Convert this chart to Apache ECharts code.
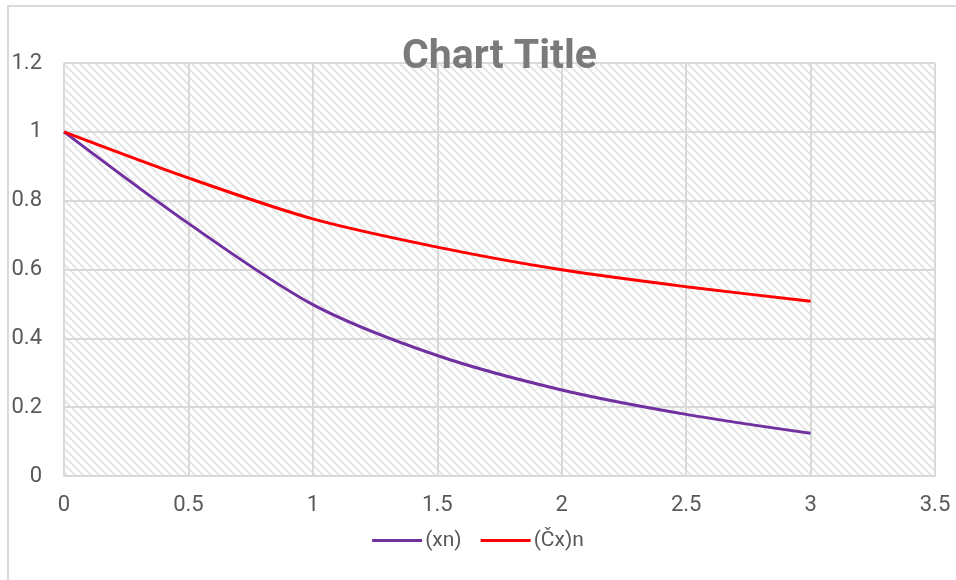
<!DOCTYPE html>
<html>
<head>
<meta charset="utf-8">
<script src="https://cdn.jsdelivr.net/npm/echarts@6/dist/echarts.min.js"></script>
<style>
html,body{margin:0;padding:0;background:#fff;}
#chart{width:956px;height:580px;}
</style>
</head>
<body>
<div id="chart"></div>
<script>
const xValues = [0, 0.5, 1, 1.5, 2, 2.5, 3];
const seriesXn = [1, 0.734, 0.498, 0.350, 0.250, 0.179, 0.124];
const seriesCxn = [1, 0.866, 0.747, 0.665, 0.599, 0.550, 0.508];
const seriesNames = ['(xn)', '(Čx)n'];
const titleText = 'Chart Title';

function makePattern() {
  const c = document.createElement('canvas');
  c.width = 8; c.height = 8;
  const ctx = c.getContext('2d');
  ctx.fillStyle = '#ffffff';
  ctx.fillRect(0, 0, 8, 8);
  ctx.strokeStyle = '#e5e5e5';
  ctx.lineWidth = 2.1;
  for (const k of [-8, 0, 8]) {
    ctx.beginPath();
    ctx.moveTo(k, 0);
    ctx.lineTo(k + 8, 8);
    ctx.stroke();
  }
  return c;
}

const chart = echarts.init(document.getElementById('chart'), null, {renderer: 'canvas'});
const font = 'Roboto';
chart.setOption({
  animation: false,
  backgroundColor: '#ffffff',
  textStyle: {fontFamily: font},
  title: {
    text: titleText,
    left: 397,
    top: 32,
    textStyle: {fontFamily: font, fontSize: 41, fontWeight: 'bold', color: '#7a7a7a'}
  },
  graphic: [{
    type: 'rect',
    shape: {x: 8, y: 6, width: 1200, height: 1200},
    style: {fill: 'none', stroke: '#d9d9d9', lineWidth: 2},
    silent: true
  }],
  grid: {
    left: 64, right: 21, top: 63, bottom: 104,
    show: true,
    backgroundColor: {image: makePattern(), repeat: 'repeat'},
    borderWidth: 0
  },
  legend: {
    bottom: 24,
    left: 'center',
    icon: 'rect',
    itemWidth: 50,
    itemHeight: 3,
    itemGap: 19,
    textStyle: {fontFamily: font, fontSize: 21, color: '#595959', padding: [0, 0, 0, -2]},
    data: seriesNames
  },
  xAxis: {
    type: 'value',
    min: 0, max: 3.5, interval: 0.5,
    axisLine: {show: true, lineStyle: {color: '#d9d9d9', width: 2}},
    axisTick: {show: false},
    splitLine: {show: true, lineStyle: {color: '#d9d9d9', width: 2}},
    axisLabel: {fontFamily: font, fontSize: 22, color: '#595959', margin: 18}
  },
  yAxis: {
    type: 'value',
    min: 0, max: 1.2, interval: 0.2,
    axisLine: {show: false},
    axisTick: {show: false},
    splitLine: {show: true, lineStyle: {color: '#d9d9d9', width: 2}},
    axisLabel: {fontFamily: font, fontSize: 22, color: '#595959', margin: 22}
  },
  series: [
    {
      name: seriesNames[0],
      type: 'line',
      data: xValues.map((x, i) => [x, seriesXn[i]]),
      smooth: 0.3,
      symbol: 'none',
      lineStyle: {color: '#7030A0', width: 3},
      itemStyle: {color: '#7030A0'}
    },
    {
      name: seriesNames[1],
      type: 'line',
      data: xValues.map((x, i) => [x, seriesCxn[i]]),
      smooth: 0.3,
      symbol: 'none',
      lineStyle: {color: '#FF0000', width: 3},
      itemStyle: {color: '#FF0000'}
    }
  ]
});
</script>
</body>
</html>
